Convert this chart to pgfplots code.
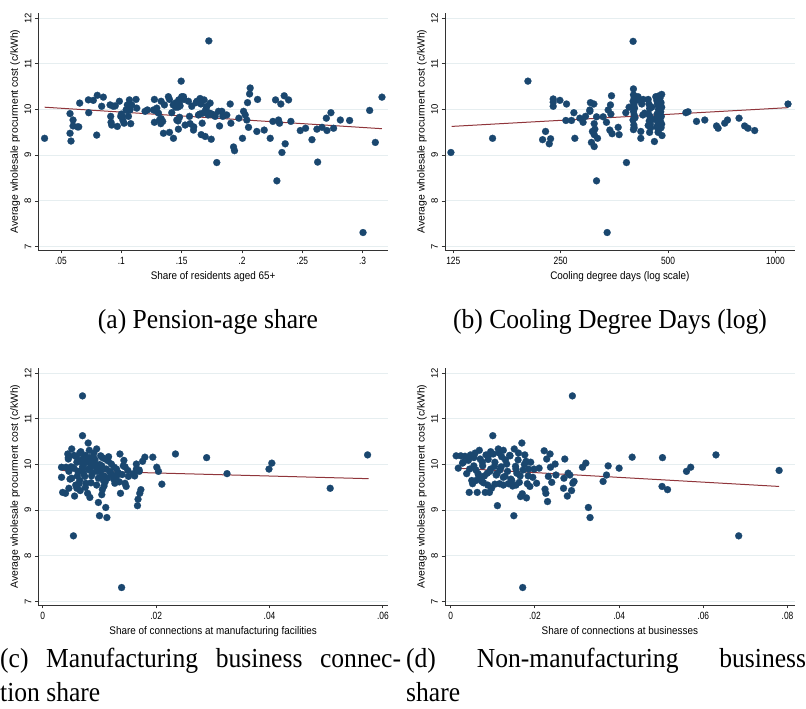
\documentclass[border=0pt]{standalone}
\usepackage{pgfplots}
\pgfplotsset{compat=1.18}
\usepackage{fontspec}
\setmainfont{Liberation Serif}
\newfontfamily\pf{Liberation Sans}
\definecolor{navy}{RGB}{26,71,111}
\definecolor{fitred}{RGB}{144,53,59}
\definecolor{gridc}{RGB}{230,238,240}

\pgfplotsset{
 panel/.style={
  scale only axis, width=349.7pt, height=237pt, anchor=south west,
  axis x line*=bottom, axis y line*=left,
  axis line style={black!80, line width=0.9pt, -},
  ymin=6.928, ymax=12.11,
  ytick={7,8,9,10,11,12}, yticklabels={7,8,9,10,11,12},
  scaled x ticks=false,
  ymajorgrids, major grid style={gridc, line width=1pt},
  tick align=outside, major tick length=3.5pt,
  tick style={black!80, line width=0.9pt},
  xticklabel style={font=\pf\fontsize{10.5}{12}\selectfont, xscale=0.8},
  yticklabel style={font=\pf\fontsize{9.5}{11}\selectfont, rotate=90, anchor=south},
  xlabel style={font=\pf\fontsize{11}{13}\selectfont, xscale=0.9, at={(axis description cs:0.5,-0.125)}, anchor=base},
  ylabel style={font=\pf\fontsize{10.4}{12}\selectfont, at={(axis description cs:-0.066,0.5)}, anchor=center},
  ylabel={Average wholesale procurment cost (c/kWh)},
  clip=false,
 },
 dots/.style={only marks, mark=*, mark size=3.5pt, mark options={fill=navy, draw=navy, line width=0.2pt}},
 fitl/.style={no marks, fitred, line width=1pt},
}

\pgfplotstableread{
x y
0.0364 9.37
0.0575 9.91
0.0575 9.48
0.0583 9.31
0.0600 9.77
0.0600 9.64
0.0636 9.62
0.0647 9.62
0.0655 10.14
0.0727 10.21
0.0730 9.93
0.0768 10.20
0.0801 10.31
0.0796 9.44
0.0837 10.07
0.0851 10.27
0.0907 10.10
0.0912 9.85
0.0915 9.72
0.0920 9.66
0.0934 10.07
0.0950 10.08
0.0967 9.63
0.0984 10.18
0.0995 9.85
0.1012 9.77
0.1023 9.70
0.1039 9.99
0.1050 10.10
0.1059 9.85
0.1067 10.21
0.1072 9.99
0.1078 9.69
0.1086 10.10
0.1122 10.22
0.1128 10.03
0.1197 9.96
0.1216 9.99
0.1266 9.99
0.1274 10.22
0.1274 9.72
0.1294 10.03
0.1308 9.92
0.1316 9.77
0.1327 9.69
0.1330 10.18
0.1343 9.74
0.1349 9.48
0.1357 10.10
0.1390 10.28
0.1399 10.22
0.1399 9.50
0.1418 9.93
0.1432 9.37
0.1446 10.14
0.1460 9.77
0.1468 10.05
0.1473 9.57
0.1476 10.21
0.1482 9.83
0.1487 10.08
0.1496 10.62
0.1501 10.28
0.1515 10.28
0.1529 9.66
0.1556 10.18
0.1565 9.85
0.1570 9.69
0.1584 10.07
0.1598 9.55
0.1626 10.18
0.1639 9.88
0.1653 10.24
0.1662 9.45
0.1670 9.70
0.1675 9.92
0.1686 10.21
0.1695 9.41
0.1709 10.07
0.1725 11.50
0.1731 9.92
0.1736 10.14
0.1745 9.35
0.1764 9.88
0.1778 9.85
0.1791 8.84
0.1805 9.96
0.1814 9.64
0.1833 9.96
0.1841 9.85
0.1874 9.88
0.1902 10.12
0.1908 9.70
0.1930 9.18
0.1938 9.10
0.1974 9.81
0.2004 9.37
0.2013 9.96
0.2027 9.88
0.2040 9.77
0.2046 10.15
0.2054 9.61
0.2063 10.34
0.2068 10.47
0.2129 10.22
0.2123 9.52
0.2184 9.55
0.2234 9.37
0.2256 9.74
0.2278 10.21
0.2289 8.44
0.2303 9.77
0.2311 9.70
0.2322 10.12
0.2331 9.06
0.2350 10.30
0.2358 9.25
0.2386 10.21
0.2405 9.74
0.2483 9.54
0.2527 9.59
0.2580 9.34
0.2621 9.57
0.2627 8.85
0.2663 9.61
0.2699 9.81
0.2704 9.54
0.2737 9.93
0.2759 9.59
0.2815 9.77
0.2892 9.76
0.3003 7.31
0.3058 9.98
0.3105 9.28
0.3160 10.27
0.1450 10.05
0.1470 9.75
0.1520 10.22
0.1600 9.62
0.1650 9.90
0.1700 10.00
0.1750 9.90
0.1720 9.88
0.1660 10.12
0.1620 10.15
0.1430 10.10
0.1480 10.15
0.1280 9.98
0.1330 9.80
0.1010 9.85
0.1050 9.98
0.1000 9.90
}\tA

\pgfplotstableread{
x y
123.1 9.06
161.1 9.37
202.4 10.62
222.5 9.34
226.8 9.52
232.3 9.25
234.3 9.36
238.3 10.23
238.3 10.16
238.3 10.07
248.8 10.20
258.6 9.76
259.7 10.12
268.2 9.76
272.3 9.93
274.0 9.37
283.0 9.81
289.0 9.72
293.6 9.85
301.9 9.96
301.9 9.99
303.0 10.15
305.0 9.28
307.0 9.52
309.8 10.12
310.5 9.69
310.5 9.45
310.5 9.19
311.8 9.57
315.2 9.84
317.2 9.37
315.2 8.44
329.0 9.84
336.1 9.72
337.6 7.31
339.8 9.99
343.5 9.55
344.9 10.10
345.8 9.90
347.2 10.30
348.5 9.47
362.5 9.61
364.7 9.45
380.8 9.93
382.4 8.84
389.0 10.05
399.2 11.49
400 10.45
400 10.32
402 10.25
399 10.18
401 10.10
403 10.03
400 9.96
402 9.88
399 9.77
401 9.66
400 9.56
402 9.60
404 9.82
406 10.28
408 10.20
412 10.28
418 10.20
419.5 9.52
419.5 9.37
426 10.22
430 9.92
422 10.12
425 9.88
440 10.22
442 10.12
444 10.02
441 9.90
445 9.85
443 9.75
446 9.68
440 9.65
444 9.50
447 9.60
450 10.05
452 9.78
458 9.30
462 10.28
465 10.20
468 10.10
470 10.00
466 9.90
463 9.80
468 9.72
465 9.62
470 9.55
472 10.30
475 10.25
478 10.15
480 10.05
477 9.95
479 9.85
476 9.75
480 9.68
478 9.60
481 9.43
474 9.88
471 9.78
467 10.14
473 9.65
480 10.33
469 9.50
561 9.93
569 9.95
601 9.74
634 9.77
684 9.64
691 9.59
721 9.70
734 9.77
791 9.81
820 9.64
838 9.59
875 9.54
1085 10.12
}\tB

\pgfplotstableread{
x y
0.0033 9.94
0.0033 9.72
0.0035 9.39
0.0040 9.37
0.0041 9.94
0.0044 10.23
0.0045 10.12
0.0046 9.85
0.0046 9.48
0.0048 9.68
0.0051 10.34
0.0051 9.70
0.0054 8.44
0.0055 9.92
0.0056 9.31
0.0059 10.17
0.0060 9.48
0.0061 9.75
0.0063 10.07
0.0064 9.58
0.0066 9.43
0.0067 10.28
0.0069 9.88
0.0070 10.63
0.0070 11.50
0.0072 10.00
0.0073 10.17
0.0074 9.74
0.0076 9.59
0.0077 10.14
0.0079 9.37
0.0080 10.47
0.0082 10.31
0.0082 9.88
0.0083 9.28
0.0084 10.07
0.0086 9.75
0.0089 10.17
0.0092 10.00
0.0095 10.34
0.0096 9.85
0.0098 9.17
0.0100 8.88
0.0101 9.72
0.0102 10.19
0.0104 9.34
0.0104 9.97
0.0107 9.65
0.0108 9.53
0.0110 10.12
0.0111 9.06
0.0113 8.84
0.0114 9.70
0.0116 10.17
0.0118 9.85
0.0121 10.01
0.0123 9.77
0.0126 9.94
0.0127 9.59
0.0130 9.74
0.0133 9.82
0.0136 10.23
0.0137 9.37
0.0139 7.31
0.0142 9.97
0.0143 10.09
0.0145 9.59
0.0147 9.52
0.0150 9.87
0.0151 9.74
0.0162 9.75
0.0165 10.01
0.0167 9.10
0.0168 9.24
0.0170 9.88
0.0171 9.37
0.0173 9.45
0.0176 10.07
0.0180 10.16
0.0194 10.16
0.0201 9.94
0.0204 9.85
0.0210 9.57
0.0234 10.23
0.0289 10.15
0.0325 9.80
0.0399 9.90
0.0404 10.03
0.0507 9.48
0.0573 10.21
0.0045 10.15
0.0050 9.95
0.0055 10.20
0.0060 10.05
0.0062 9.85
0.0065 10.25
0.0068 10.10
0.0070 9.95
0.0072 9.80
0.0075 10.20
0.0078 10.05
0.0080 9.90
0.0082 10.15
0.0085 9.95
0.0088 9.82
0.0090 10.25
0.0092 10.10
0.0095 9.92
0.0098 9.70
0.0100 10.00
0.0102 9.85
0.0105 10.15
0.0108 9.75
0.0110 9.62
0.0112 9.90
0.0115 10.08
0.0120 9.80
0.0125 9.68
0.0130 9.90
0.0135 9.62
0.0140 9.78
0.0145 9.95
0.0065 9.65
0.0058 9.55
0.0075 9.50
0.0085 9.60
0.0095 9.55
0.0105 9.45
0.0160 9.80
0.0165 9.90
0.0170 9.85
}\tC

\pgfplotstableread{
x y
0.0013 10.19
0.0018 9.92
0.0024 10.19
0.0028 10.03
0.0034 10.18
0.0038 9.80
0.0042 10.09
0.0044 9.39
0.0047 10.21
0.0050 9.65
0.0052 9.58
0.0055 9.97
0.0058 10.25
0.0060 9.88
0.0063 9.39
0.0066 9.77
0.0068 10.31
0.0070 10.12
0.0071 9.70
0.0074 9.63
0.0076 9.97
0.0082 9.39
0.0084 10.21
0.0087 9.81
0.0089 10.11
0.0092 9.39
0.0093 9.85
0.0097 9.48
0.0100 10.63
0.0101 10.23
0.0104 9.96
0.0105 9.57
0.0108 9.77
0.0111 9.10
0.0113 10.34
0.0116 9.58
0.0117 9.88
0.0121 10.17
0.0125 10.31
0.0129 9.74
0.0133 10.01
0.0137 9.58
0.0141 10.19
0.0143 9.68
0.0147 9.53
0.0150 8.88
0.0151 10.34
0.0154 9.96
0.0157 9.81
0.0161 10.25
0.0163 9.61
0.0166 9.30
0.0169 10.47
0.0170 9.36
0.0171 7.31
0.0172 9.88
0.0176 10.21
0.0179 10.07
0.0180 9.27
0.0182 9.58
0.0184 9.75
0.0188 9.52
0.0195 9.72
0.0198 9.90
0.0204 9.59
0.0210 9.92
0.0222 10.30
0.0224 9.46
0.0226 9.37
0.0228 10.12
0.0230 9.19
0.0232 9.74
0.0236 10.23
0.0237 9.94
0.0240 9.61
0.0248 10.01
0.0250 9.77
0.0268 9.48
0.0269 9.70
0.0271 10.12
0.0277 9.31
0.0279 9.81
0.0283 9.77
0.0287 9.43
0.0290 9.59
0.0289 11.50
0.0293 9.63
0.0313 9.94
0.0321 10.03
0.0327 9.06
0.0331 8.84
0.0362 9.63
0.0370 9.77
0.0374 9.97
0.0400 9.92
0.0431 10.16
0.0502 9.52
0.0503 10.15
0.0515 9.45
0.0560 9.85
0.0570 9.94
0.0630 10.21
0.0684 8.44
0.0780 9.87
0.0030 10.05
0.0045 9.90
0.0055 10.15
0.0065 9.80
0.0075 10.05
0.0080 9.75
0.0090 10.20
0.0095 9.90
0.0105 10.05
0.0110 9.80
0.0120 9.95
0.0125 9.72
0.0130 10.10
0.0135 9.85
0.0140 10.20
0.0145 9.65
0.0155 9.90
0.0160 10.10
0.0165 9.75
0.0175 10.00
0.0185 9.90
0.0190 10.05
0.0115 10.25
0.0095 10.28
0.0078 9.60
0.0088 9.55
0.0125 9.55
0.0060 9.65
0.0155 9.55
}\tD

\begin{document}
\begin{tikzpicture}
\useasboundingbox (0,0) rectangle (806pt,709pt);

\begin{axis}[panel, at={(38.3pt,459pt)}, xmin=0.0312, xmax=0.321,
  xtick={0.05,0.1,0.15,0.2,0.25,0.3}, xticklabels={.05,.1,.15,.2,.25,.3},
  xlabel={Share of residents aged 65+}]
\addplot[dots] table {\tA};
\addplot[fitl] coordinates {(0.0365,10.05) (0.316,9.58)};
\end{axis}

\begin{axis}[panel, at={(445pt,459pt)}, xmode=log, xmin=118.5, xmax=1133,
  xtick={125,250,500,1000}, xticklabels={125,250,500,1000},
  xlabel={Cooling degree days (log scale)}]
\addplot[dots] table {\tB};
\addplot[fitl] coordinates {(123.7,9.63) (1085,10.04)};
\end{axis}

\begin{axis}[panel, at={(38.3pt,104pt)}, xmin=-0.0008, xmax=0.0609,
  xtick={0,0.02,0.04,0.06}, xticklabels={0,.02,.04,.06},
  xlabel={Share of connections at manufacturing facilities}]
\addplot[dots] table {\tC};
\addplot[fitl] coordinates {(0.0033,9.87) (0.0575,9.69)};
\end{axis}

\begin{axis}[panel, at={(445pt,104pt)}, xmin=-0.00135, xmax=0.0817,
  xtick={0,0.02,0.04,0.06,0.08}, xticklabels={0,.02,.04,.06,.08},
  xlabel={Share of connections at businesses}]
\addplot[dots] table {\tD};
\addplot[fitl] coordinates {(0.0014,9.92) (0.078,9.52)};
\end{axis}

\begin{scope}[every node/.style={inner sep=0pt, font=\fontsize{27.5}{34}\selectfont, xscale=0.93}]
\node[anchor=base] at (208pt,380pt) {(a) Pension-age share};
\node[anchor=base] at (610pt,380pt) {(b) Cooling Degree Days (log)};
\node[anchor=base west] at (0pt,41pt) {\hbox to 431pt{(c)\hfill Manufacturing\hfill business\hfill connec-}};
\node[anchor=base west] at (0pt,7.5pt) {tion share};
\node[anchor=base west] at (406pt,41pt) {\hbox to 430pt{(d)\hfill Non-manufacturing\hfill business}};
\node[anchor=base west] at (406pt,7.5pt) {share};
\end{scope}
\end{tikzpicture}
\end{document}
